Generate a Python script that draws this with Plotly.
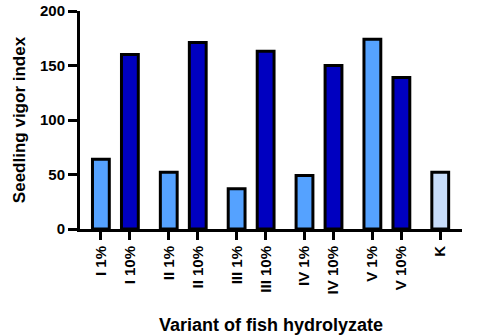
import plotly.graph_objects as go

categories = ["I 1%", "I 10%", "II 1%", "II 10%", "III 1%", "III 10%",
              "IV 1%", "IV 10%", "V 1%", "V 10%", "K"]
groups = [0, 0, 1, 1, 2, 2, 3, 3, 4, 4, 5]
values = [64, 160, 52, 171, 37, 163, 49, 150, 174, 139, 52]
colors = ["#55A2FF", "#0000C0", "#55A2FF", "#0000C0", "#55A2FF", "#0000C0",
          "#55A2FF", "#0000C0", "#55A2FF", "#0000C0", "#C8DDFA"]

GAP = 0.34
xpos = [i + g * GAP for i, g in enumerate(groups)]

font = "Liberation Sans, Arial, sans-serif"

fig = go.Figure(go.Bar(
    x=xpos, y=values, width=0.58,
    marker=dict(color=colors, line=dict(color="black", width=3)),
))

fig.update_layout(
    width=483, height=336,
    margin=dict(l=80, r=21, t=11, b=107),
    plot_bgcolor="white", paper_bgcolor="white",
    showlegend=False,
    font=dict(family=font, color="black"),
)
fig.update_xaxes(
    range=[-0.72, 12.45], automargin=False,
    tickmode="array", tickvals=xpos, ticktext=["<b>%s</b>" % c for c in categories],
    tickangle=-90, tickfont=dict(size=15, family=font),
    ticks="outside", ticklen=8, tickwidth=3, tickcolor="black",
    showline=True, linewidth=3, linecolor="black",
    showgrid=False, zeroline=False,
    title=dict(text="<b>Variant of fish hydrolyzate</b>", font=dict(size=18, family=font), standoff=26),
)
fig.update_yaxes(
    range=[0, 200], automargin=False,
    tickvals=[0, 50, 100, 150, 200], ticktext=["<b>%d</b>" % v for v in [0, 50, 100, 150, 200]],
    tickfont=dict(size=15, family=font),
    ticks="outside", ticklen=9, tickwidth=3, tickcolor="black",
    showline=True, linewidth=3, linecolor="black",
    showgrid=False, zeroline=False,
    title=dict(text="<b>Seedling vigor index</b>", font=dict(size=17, family=font), standoff=11),
)

fig.write_html("out.html")
